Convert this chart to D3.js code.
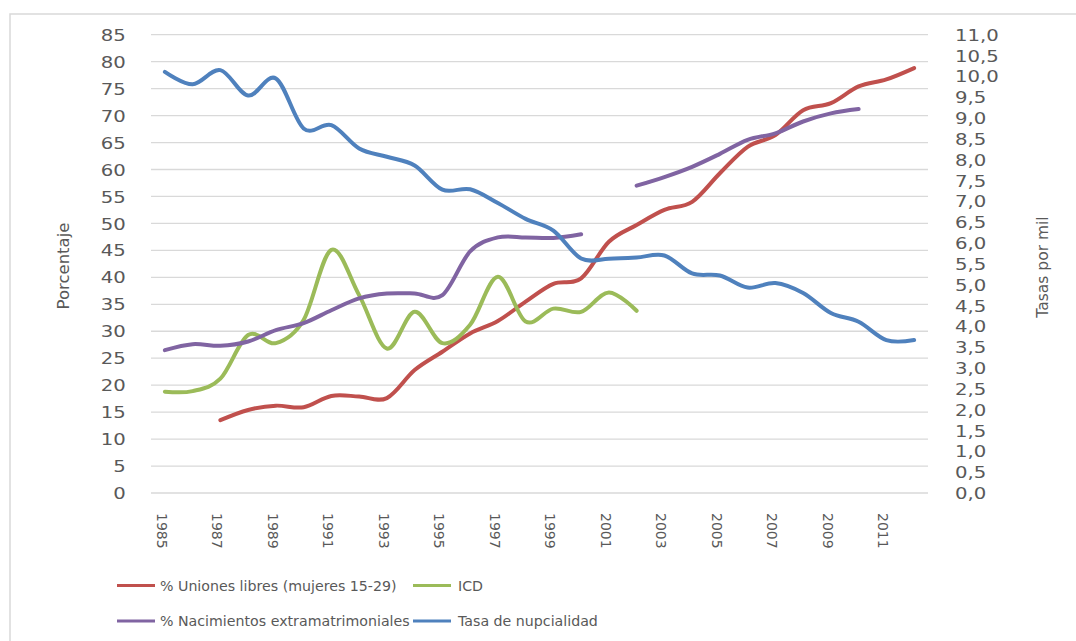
<!DOCTYPE html>
<html>
<head>
<meta charset="utf-8">
<script src="https://cdn.jsdelivr.net/npm/d3@7"></script>
<style>
  body { margin: 0; background: #fff; }
  text { font-family: 'DejaVu Sans', sans-serif; fill: #595959; }
</style>
</head>
<body>
<main></main>
<script>
'use strict';

const years = [1985, 1986, 1987, 1988, 1989, 1990, 1991, 1992, 1993, 1994,
  1995, 1996, 1997, 1998, 1999, 2000, 2001, 2002, 2003, 2004,
  2005, 2006, 2007, 2008, 2009, 2010, 2011, 2012];

// left axis (%)
const uniones = [null, null, 13.5, 15.4, 16.2, 15.9, 18.0, 17.9, 17.6, 22.8,
  26.2, 29.6, 31.9, 35.5, 38.8, 39.8, 46.6, 49.7, 52.5, 54.0,
  59.3, 64.2, 66.4, 71.0, 72.3, 75.4, 76.7, 78.8];
const icd = [18.8, 18.9, 21.2, 29.3, 27.8, 32.1, 45.1, 36.7, 26.8, 33.6,
  27.8, 31.2, 40.1, 31.8, 34.2, 33.6, 37.2, 33.8, null, null,
  null, null, null, null, null, null, null, null];
const nacimientos = [26.5, 27.6, 27.3, 28.1, 30.2, 31.5, 33.9, 36.1, 37.0, 37.0,
  36.7, 44.8, 47.4, 47.4, 47.3, 48.0, null, 57.0, 58.6, 60.5,
  62.9, 65.5, 66.7, 68.9, 70.4, 71.2, null, null];
// right axis (tasa por mil)
const nupcialidad = [10.11, 9.81, 10.15, 9.54, 9.95, 8.75, 8.83, 8.27, 8.07, 7.86,
  7.28, 7.29, 6.96, 6.58, 6.30, 5.63, 5.62, 5.65, 5.70, 5.27,
  5.22, 4.93, 5.04, 4.80, 4.32, 4.11, 3.67, 3.67];

const leftTicks = d3.range(0, 86, 5);
const rightTicks = d3.range(0, 11.01, 0.5);
const yearTicks = years.filter(d => d % 2 === 1);

const series = [
  { name: '% Uniones libres (mujeres 15-29)', values: uniones, axis: 'left', color: '#C0504D' },
  { name: 'ICD', values: icd, axis: 'left', color: '#9BBB59' },
  { name: '% Nacimientos extramatrimoniales', values: nacimientos, axis: 'left', color: '#8064A2' },
  { name: 'Tasa de nupcialidad', values: nupcialidad, axis: 'right', color: '#4F81BD' }
];

const W = 1076, H = 641;
const plot = { left: 151, right: 928, top: 34.7, bottom: 493 };
const stretch = 1.27;

const svg = d3.select('main')
  .append('svg')
  .attr('width', W)
  .attr('height', H);

// chart frame
svg.append('rect')
  .attr('x', 10)
  .attr('y', 14)
  .attr('width', W + 20)
  .attr('height', H + 20)
  .attr('fill', '#fff')
  .attr('stroke', '#d9d9d9')
  .attr('stroke-width', 1.5);

const x = d3.scaleBand()
  .domain(years)
  .range([plot.left, plot.right]);
const xc = d => x(d) + x.bandwidth() / 2;

const yL = d3.scaleLinear().domain([0, 85]).range([plot.bottom, plot.top]);
const yR = d3.scaleLinear().domain([0, 11]).range([plot.bottom, plot.top]);

const comma = d3.formatLocale({ decimal: ',', thousands: '.', grouping: [3], currency: ['', ''] });

// gridlines
svg.append('g')
  .attr('class', 'grid')
  .selectAll('line')
  .data(leftTicks)
  .enter()
  .append('line')
  .attr('x1', plot.left)
  .attr('x2', plot.right)
  .attr('y1', d => yL(d))
  .attr('y2', d => yL(d))
  .attr('stroke', '#d9d9d9')
  .attr('stroke-width', 1.3);

// left axis
const leftAxis = svg.append('g')
  .attr('transform', 'translate(' + plot.left + ',0)')
  .call(d3.axisLeft(yL).tickValues(leftTicks).tickSize(0));
leftAxis.select('.domain').remove();
leftAxis.selectAll('text')
  .attr('x', -25.3 / stretch)
  .attr('dy', '0.36em')
  .attr('transform', 'scale(' + stretch + ',1)')
  .style('font-size', '15.5px')
  .style('font-family', 'DejaVu Sans')
  .attr('fill', '#595959');

// right axis
const rightAxis = svg.append('g')
  .attr('transform', 'translate(' + plot.right + ',0)')
  .call(d3.axisRight(yR).tickValues(rightTicks).tickSize(0).tickFormat(comma.format('.1f')));
rightAxis.select('.domain').remove();
rightAxis.selectAll('text')
  .attr('x', 27 / stretch)
  .attr('dy', '0.36em')
  .attr('transform', 'scale(' + stretch + ',1)')
  .style('font-size', '15.5px')
  .style('font-family', 'DejaVu Sans')
  .attr('fill', '#595959');

// bottom axis, rotated years
const bottomAxis = svg.append('g')
  .attr('transform', 'translate(0,' + plot.bottom + ')')
  .call(d3.axisBottom(x).tickValues(yearTicks).tickSize(0));
bottomAxis.select('.domain').remove();
bottomAxis.selectAll('text')
  .attr('x', 0)
  .attr('y', 0)
  .attr('dy', '0.36em')
  .attr('text-anchor', 'start')
  .attr('transform', 'translate(-3,20) rotate(90)')
  .style('font-size', '14px')
  .style('font-family', 'DejaVu Sans')
  .attr('fill', '#595959');

// axis titles
svg.append('text')
  .attr('transform', 'translate(63,266) rotate(-90)')
  .attr('text-anchor', 'middle')
  .attr('dy', '0.36em')
  .style('font-size', '16.5px')
  .text('Porcentaje');

svg.append('text')
  .attr('transform', 'translate(1042,267) rotate(-90)')
  .attr('text-anchor', 'middle')
  .attr('dy', '0.36em')
  .style('font-size', '15.5px')
  .text('Tasas por mil');

// lines
const line = yScale => d3.line()
  .defined(d => d.v !== null)
  .x(d => xc(d.year))
  .y(d => yScale(d.v))
  .curve(d3.curveCatmullRom.alpha(0));

svg.append('g')
  .attr('class', 'lines')
  .selectAll('path')
  .data(series)
  .enter()
  .append('path')
  .attr('fill', 'none')
  .attr('stroke', d => d.color)
  .attr('stroke-width', 4)
  .attr('stroke-linecap', 'round')
  .attr('stroke-linejoin', 'round')
  .attr('d', s => line(s.axis === 'left' ? yL : yR)(years.map((yr, i) => ({ year: yr, v: s.values[i] }))));

// legend
const legendPos = [
  { lx: 117, tx: 160, y: 585.5 },
  { lx: 413, tx: 458, y: 585.5 },
  { lx: 117, tx: 160, y: 621 },
  { lx: 413, tx: 458, y: 621 }
];

const legend = svg.append('g')
  .attr('id', 'legend')
  .selectAll('g')
  .data(series)
  .enter()
  .append('g')
  .attr('transform', (d, i) => 'translate(0,' + legendPos[i].y + ')');

legend.append('line')
  .attr('x1', (d, i) => legendPos[i].lx)
  .attr('x2', (d, i) => legendPos[i].lx + 38)
  .attr('stroke', d => d.color)
  .attr('stroke-width', 3);

legend.append('text')
  .attr('x', (d, i) => legendPos[i].tx)
  .attr('dy', '0.36em')
  .style('font-size', '14.2px')
  .text(d => d.name);
</script>
</body>
</html>
